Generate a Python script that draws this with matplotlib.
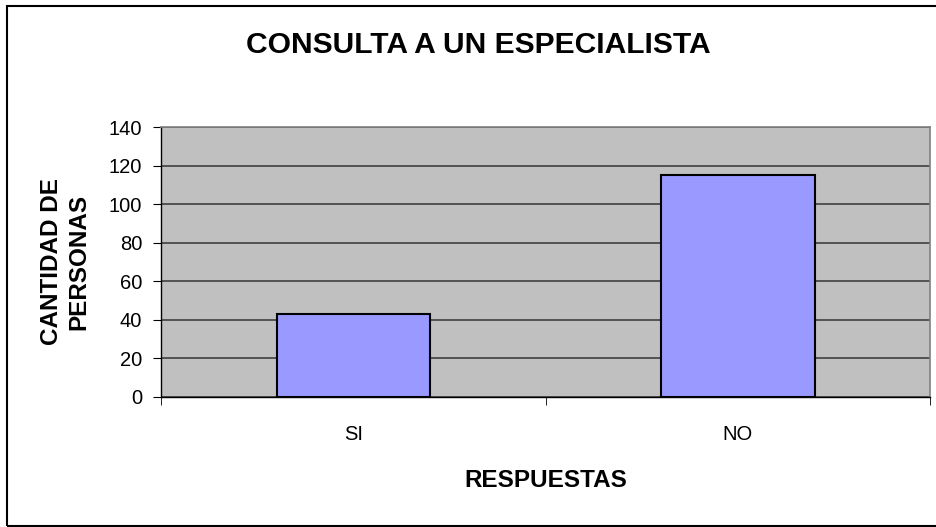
import matplotlib.pyplot as plt
from matplotlib.patches import Rectangle

plt.rcParams['font.family'] = ['Liberation Sans', 'DejaVu Sans']

categorias = ['SI', 'NO']
personas = [43, 115]

fig = plt.figure(figsize=(9.36, 5.27), dpi=100)
ax = fig.add_axes([0.1725, 0.2467, 0.821, 0.5123])

x = range(len(categorias))
ax.bar(x, personas, width=0.4, color='#9999ff', edgecolor='black', linewidth=1.5, zorder=3)

ax.set_facecolor('#c0c0c0')
ax.set_xlim(-0.5, 1.5)
ax.set_ylim(0, 140)
ax.set_yticks(range(0, 141, 20))
ax.set_xticks([0, 1])
ax.set_xticklabels(categorias, fontsize=14.5)
ax.set_xticks([-0.5, 0.5, 1.5], minor=True)
ax.tick_params(axis='x', which='major', length=0, pad=20)
ax.tick_params(axis='x', which='minor', length=6, direction='out', color='black')
ax.tick_params(axis='y', length=6, direction='out', labelsize=14.5, pad=8)
ax.grid(axis='y', color='#404040', linewidth=1.2, zorder=1)

for s in ['top', 'right']:
    ax.spines[s].set_color('#808080')
    ax.spines[s].set_linewidth(1.2)
for s in ['left', 'bottom']:
    ax.spines[s].set_color('black')
    ax.spines[s].set_linewidth(1)

ax.set_xlabel('RESPUESTAS', fontsize=17.5, fontweight='bold', labelpad=18)
ax.set_ylabel('CANTIDAD DE\nPERSONAS', fontsize=17.5, fontweight='bold', labelpad=13, linespacing=1.25)

fig.text(0.511, 0.9146, 'CONSULTA A UN ESPECIALISTA', fontsize=21.6, fontweight='bold',
         ha='center', va='center')

# marco exterior
fig.patches.append(Rectangle((7 / 936, 1 / 527), 1.2, 520 / 527, transform=fig.transFigure,
                             fill=False, edgecolor='black', linewidth=1.5))

fig.savefig('out.png', dpi=100)
